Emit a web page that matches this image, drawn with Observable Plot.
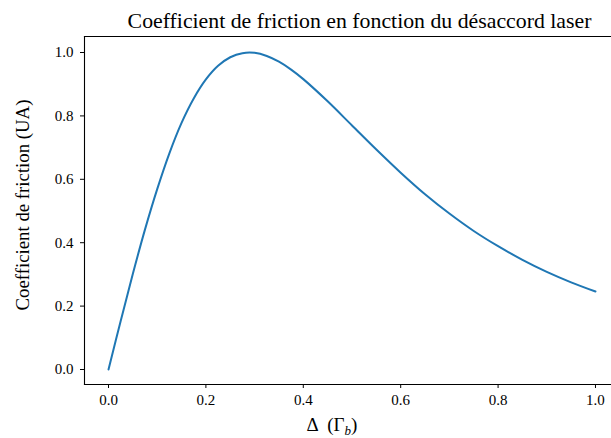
<!DOCTYPE html>
<html>
<head>
<meta charset="utf-8">
<script src="https://cdn.jsdelivr.net/npm/d3@7"></script>
<script src="https://cdn.jsdelivr.net/npm/@observablehq/plot@0.6"></script>
<style>
  html, body { margin: 0; padding: 0; background: #fff; }
  #chart svg { display: block; }
  #chart svg text { font-family: 'Liberation Serif', 'DejaVu Serif', serif !important; }
  #chart svg g[aria-label="x-axis tick label"] text,
  #chart svg g[aria-label="y-axis tick label"] text { font-size: 15px !important; fill: #000; }
</style>
</head>
<body>
<div id="chart"></div>
<script>
// Detuning Δ (in units of Γ_b)
const detuning = [0, 0.025, 0.05, 0.075, 0.1, 0.125, 0.15, 0.175, 0.2, 0.225, 0.25, 0.275, 0.3, 0.325, 0.35, 0.375, 0.4, 0.45, 0.5, 0.55, 0.6, 0.65, 0.7, 0.75, 0.8, 0.85, 0.9, 0.95, 1.0];
// Friction coefficient (arbitrary units)
const friction = [0, 0.153, 0.302, 0.442, 0.569, 0.682, 0.778, 0.855, 0.915, 0.958, 0.985, 0.998, 0.999, 0.989, 0.971, 0.946, 0.916, 0.846, 0.770, 0.694, 0.621, 0.553, 0.492, 0.437, 0.389, 0.346, 0.308, 0.275, 0.246];
const xTicks = [0, 0.2, 0.4, 0.6, 0.8, 1.0];
const yTicks = [0, 0.2, 0.4, 0.6, 0.8, 1.0];
const titleText = "Coefficient de friction en fonction du désaccord laser";
const yLabel = "Coefficient de friction (UA)";

const data = detuning.map((d, i) => ({x: d, y: friction[i]}));
const font = "'Liberation Serif', 'DejaVu Serif', serif";
const fmt = d3.format(".1f");

const chart = Plot.plot({
  width: 611,
  height: 438,
  marginLeft: 84,
  marginRight: 0,
  marginTop: 36,
  marginBottom: 54,
  style: {fontFamily: font, fontSize: "15px", color: "#000", background: "#fff"},
  x: {domain: [-0.0493, 1.0329]},
  y: {domain: [-0.0473, 1.0505]},
  marks: [
    Plot.frame({anchor: "left", stroke: "#000", strokeWidth: 1.1}),
    Plot.frame({anchor: "top", stroke: "#000", strokeWidth: 1.1}),
    Plot.frame({anchor: "bottom", stroke: "#000", strokeWidth: 1.1}),
    Plot.axisX(xTicks, {tickSize: 4, tickPadding: 6, tickFormat: fmt, label: null, fontSize: 15, stroke: "#000", strokeWidth: 1, strokeOpacity: 1}),
    Plot.axisY(yTicks, {tickSize: 4, tickPadding: 7, tickFormat: fmt, label: null, fontSize: 15, stroke: "#000", strokeWidth: 1, strokeOpacity: 1}),
    Plot.line(data, {x: "x", y: "y", stroke: "#1f77b4", strokeWidth: 2, curve: "catmull-rom"})
  ]
});

const svg = d3.select(chart);
svg.append("text")
  .attr("x", 359.5).attr("y", 28)
  .attr("text-anchor", "middle")
  .style("font-family", font).style("font-size", "21.8px").attr("fill", "#000")
  .text(titleText);

svg.append("text")
  .attr("transform", "translate(29,205) rotate(-90)")
  .attr("text-anchor", "middle")
  .style("font-family", font).style("font-size", "18.8px").attr("fill", "#000")
  .text(yLabel);

const xl = svg.append("text")
  .attr("x", 332).attr("y", 431)
  .attr("text-anchor", "middle")
  .style("font-family", font).style("font-size", "19px").attr("fill", "#000");
xl.append("tspan").text("Δ  (Γ");
xl.append("tspan").attr("dy", 4).style("font-size", "13px").style("font-style", "italic").text("b");
xl.append("tspan").attr("dy", -4).text(")");

document.getElementById("chart").appendChild(chart);
</script>
</body>
</html>
